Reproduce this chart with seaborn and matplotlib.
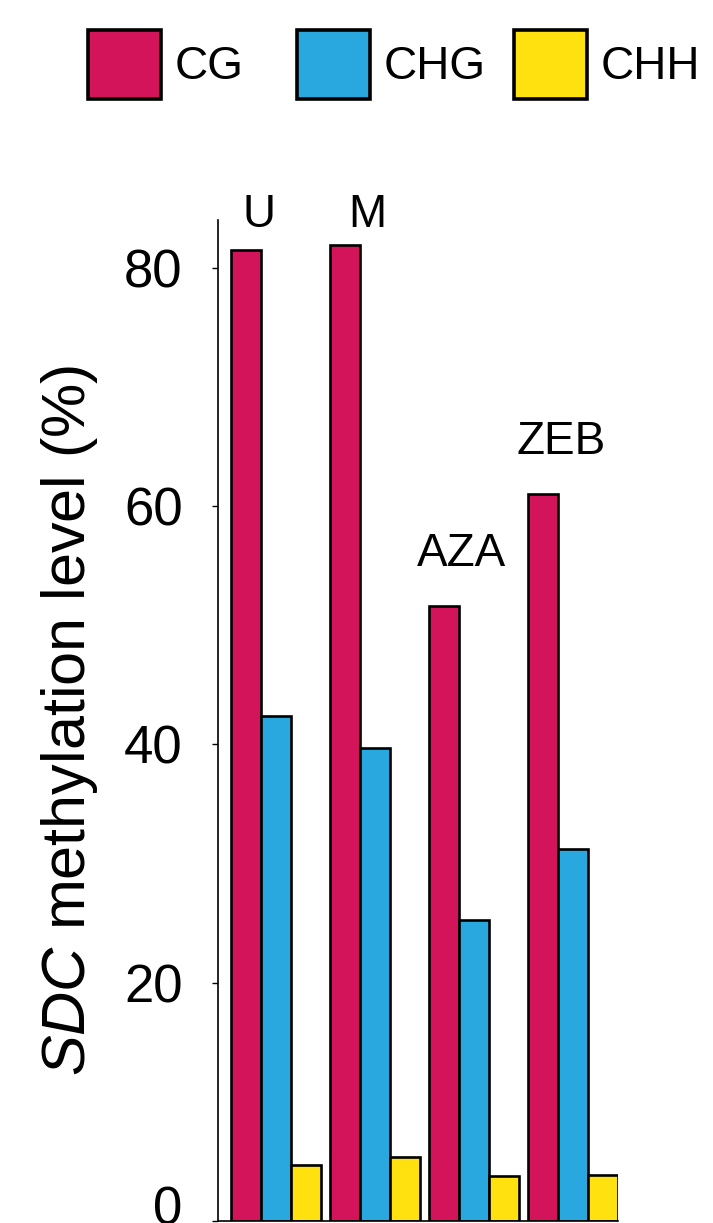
import matplotlib
matplotlib.use("Agg")
import matplotlib.pyplot as plt
from matplotlib.transforms import ScaledTranslation
import pandas as pd
import seaborn as sns

# Treatment groups and cytosine contexts
treatments = ["U", "M", "AZA", "ZEB"]
contexts = ["CG", "CHG", "CHH"]

# SDC methylation level (%) per treatment, one list per context
cg_level = [81.5, 81.9, 51.6, 61.0]
chg_level = [42.4, 39.7, 25.3, 31.2]
chh_level = [4.7, 5.4, 3.8, 3.9]

yticks = [0, 20, 40, 60, 80]
palette = {"CG": "#D4145A", "CHG": "#29A8E0", "CHH": "#FFE10F"}

df = pd.DataFrame({
    "treatment": treatments * 3,
    "context": ["CG"] * 4 + ["CHG"] * 4 + ["CHH"] * 4,
    "level": cg_level + chg_level + chh_level,
})

sns.set_theme(style="ticks")
plt.rcParams["font.family"] = ["Liberation Sans", "DejaVu Sans"]
plt.rcParams["mathtext.fontset"] = "custom"
plt.rcParams["mathtext.rm"] = "Liberation Sans"
plt.rcParams["mathtext.it"] = "Liberation Sans:italic"
plt.rcParams["text.color"] = "black"
plt.rcParams["axes.labelcolor"] = "black"
plt.rcParams["ytick.color"] = "black"
plt.rcParams["ytick.labelcolor"] = "black"

W, H = 713, 1223
fig = plt.figure(figsize=(W / 100, H / 100), dpi=100)
ax = fig.add_axes([218 / W, 2 / H, 400 / W, 1001 / H])

sns.barplot(
    data=df, x="treatment", y="level", hue="context",
    order=treatments, hue_order=contexts, palette=palette,
    width=0.91, gap=0, edgecolor="black", linewidth=1.9,
    saturation=1, ax=ax,
)

ax.set_xlim(-0.59, 3.455)
ax.set_ylim(0, 84.0)
ax.set_yticks(yticks)
ax.set_yticklabels([str(t) for t in yticks], fontsize=38)
ax.tick_params(axis="y", direction="out", length=4.5, width=1.0,
               pad=21, colors="black")
# lift the zero label so it sits above the bottom edge
zero_label = ax.get_yticklabels()[0]
zero_label.set_transform(zero_label.get_transform()
                         + ScaledTranslation(0, 0.16, fig.dpi_scale_trans))
ax.set_xticks([])
ax.set_xlabel("")
ax.set_ylabel(r"$\mathit{SDC}$ methylation level (%)", fontsize=44,
              color="black")
ax.yaxis.set_label_coords(-0.295, 0.5)
for side in ("top", "right"):
    ax.spines[side].set_visible(False)
for side in ("left", "bottom"):
    ax.spines[side].set_color("black")
    ax.spines[side].set_linewidth(1.2)

# Treatment names above each group
label_dx = [-0.18, -0.08, -0.13, -0.12]
for i, (name, cg) in enumerate(zip(treatments, cg_level)):
    ax.text(i + label_dx[i], min(cg + 3.4, 83.4), name, ha="center",
            va="baseline", fontsize=33, color="black", clip_on=False)

# Legend entries across the top of the figure, one block per context
handles, labels = ax.get_legend_handles_labels()
ax.get_legend().remove()
legend_left = [88, 297, 514]
for h, lab, x0 in zip(handles, labels, legend_left):
    h.set_linewidth(2.6)
    fig.legend(
        [h], [lab], loc="upper left", bbox_to_anchor=(x0 / W, 1 - 30 / H),
        frameon=False, fontsize=33, handlelength=1.6, handleheight=1.95,
        handletextpad=0.3, borderpad=0, borderaxespad=0, labelcolor="black",
    )

fig.savefig("out.png", dpi=100)
